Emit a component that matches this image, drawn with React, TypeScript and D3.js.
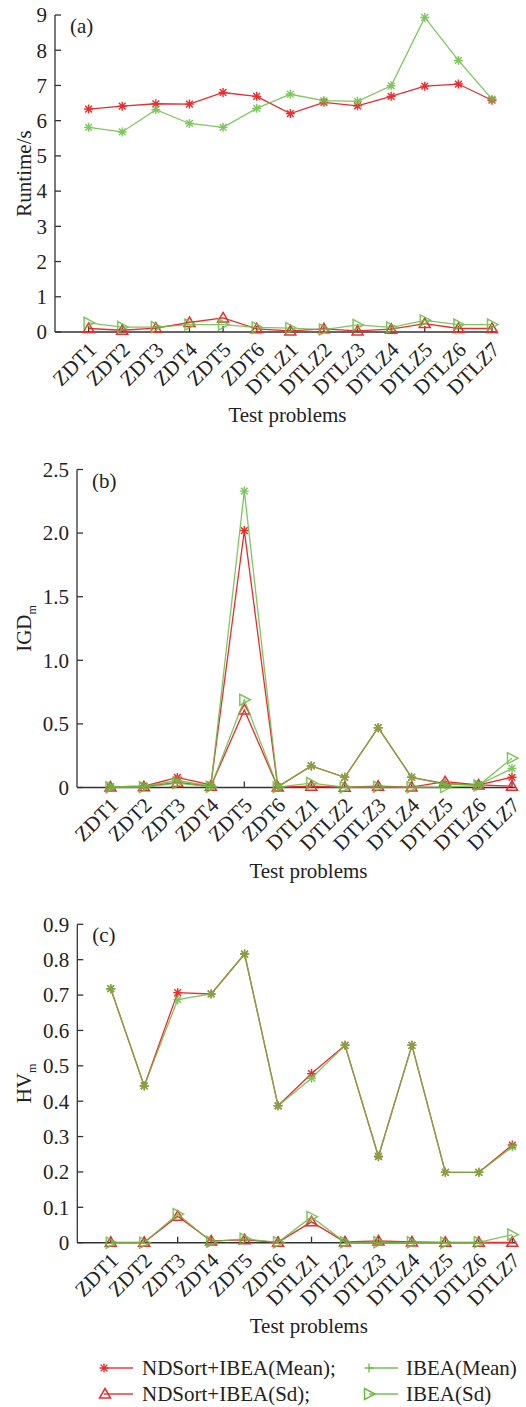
import React from 'react'
import * as d3 from 'd3'

// test problems on the x axis
const problems = ['ZDT1', 'ZDT2', 'ZDT3', 'ZDT4', 'ZDT5', 'ZDT6', 'DTLZ1', 'DTLZ2', 'DTLZ3', 'DTLZ4', 'DTLZ5', 'DTLZ6', 'DTLZ7']

// (a) runtime
const runtimeNdMean = [6.33, 6.41, 6.48, 6.47, 6.8, 6.69, 6.2, 6.52, 6.42, 6.69, 6.98, 7.04, 6.58]
const runtimeIbeaMean = [5.81, 5.68, 6.31, 5.92, 5.81, 6.35, 6.75, 6.57, 6.55, 6.99, 8.93, 7.71, 6.61]
const runtimeNdSd = [0.1, 0.05, 0.11, 0.27, 0.4, 0.09, 0.03, 0.09, 0.03, 0.08, 0.24, 0.1, 0.1]
const runtimeIbeaSd = [0.26, 0.14, 0.14, 0.21, 0.21, 0.13, 0.11, 0.07, 0.2, 0.13, 0.33, 0.21, 0.21]
const runtimeTicks = ['0', '1', '2', '3', '4', '5', '6', '7', '8', '9']

// (b) IGD
const igdNdMean = [0.005, 0.01, 0.08, 0.02, 2.02, 0.005, 0.17, 0.08, 0.47, 0.08, 0.03, 0.02, 0.08]
const igdIbeaMean = [0.005, 0.01, 0.055, 0.01, 2.33, 0.005, 0.17, 0.08, 0.47, 0.08, 0.025, 0.02, 0.15]
const igdNdSd = [0.003, 0.005, 0.04, 0.01, 0.61, 0.003, 0.01, 0.002, 0.01, 0.003, 0.046, 0.02, 0.01]
const igdIbeaSd = [0.002, 0.003, 0.035, 0.005, 0.69, 0.003, 0.035, 0.002, 0.005, 0.002, 0.003, 0.015, 0.23]
const igdTicks = ['0', '0.5', '1.0', '1.5', '2.0', '2.5']

// (c) HV
const hvNdMean = [0.718, 0.443, 0.707, 0.703, 0.816, 0.387, 0.478, 0.558, 0.243, 0.558, 0.199, 0.199, 0.276]
const hvIbeaMean = [0.718, 0.443, 0.687, 0.703, 0.816, 0.387, 0.465, 0.558, 0.245, 0.558, 0.199, 0.199, 0.271]
const hvNdSd = [0.001, 0.001, 0.075, 0.005, 0.008, 0.001, 0.059, 0.002, 0.005, 0.002, 0.001, 0.001, 0.001]
const hvIbeaSd = [0, 0, 0.081, 0.003, 0.011, 0.001, 0.073, 0.001, 0.001, 0.001, 0, 0.001, 0.023]
const hvTicks = ['0', '0.1', '0.2', '0.3', '0.4', '0.5', '0.6', '0.7', '0.8', '0.9']

const legendNames = ['NDSort+IBEA(Mean);', 'IBEA(Mean)', 'NDSort+IBEA(Sd);', 'IBEA(Sd)']

const RED = '#ec2b2e'
const GREEN = '#69bd43'
const AXIS = '#333'
const FONT = '"Liberation Serif", "Times New Roman", serif'

function marker(kind: string, x: number, y: number, color: string, key: any) {
  const s = 4.5
  if (kind === 'star') {
    const d = `M${x - s},${y}L${x + s},${y}M${x},${y - s}L${x},${y + s}` +
      `M${x - s * 0.75},${y - s * 0.75}L${x + s * 0.75},${y + s * 0.75}M${x - s * 0.75},${y + s * 0.75}L${x + s * 0.75},${y - s * 0.75}`
    return <path key={key} d={d} stroke={color} strokeWidth={1.4} fill="none" />
  }
  if (kind === 'plus') {
    return <path key={key} d={`M${x - s},${y}L${x + s},${y}M${x},${y - s}L${x},${y + s}`} stroke={color} strokeWidth={1.3} />
  }
  if (kind === 'up') {
    const d = `M${x},${y - 5.5}L${x + 5.5},${y + 4}L${x - 5.5},${y + 4}Z`
    return <path key={key} d={d} stroke={color} strokeWidth={1.5} fill="none" />
  }
  // right-pointing triangle
  const d = `M${x + 6},${y}L${x - 4.5},${y - 5.5}L${x - 4.5},${y + 5.5}Z`
  return <path key={key} d={d} stroke={color} strokeWidth={1.5} fill="none" />
}

type PanelProps = {
  x0: number
  x13: number
  yBottom: number
  yTop: number
  yMax: number
  ticks: string[]
  series: { values: number[]; color: string; kind: string; opacity: number }[]
  tag: string
  ylabel: string
  sub?: string
}

function Panel(p: PanelProps) {
  const x = d3.scaleLinear().domain([0, problems.length]).range([p.x0, p.x13])
  const y = d3.scaleLinear().domain([0, p.yMax]).range([p.yBottom, p.yTop])
  const line = d3.line<number>().x((d, i) => x(i + 1)).y(d => y(d))
  const tickVals = p.ticks.map(t => +t)
  const xEnd = p.x13 + 4
  const ymid = (p.yBottom + p.yTop) / 2

  return (
    <g fontFamily={FONT} fill="#222">
      {/* axes */}
      <line x1={p.x0} x2={p.x0} y1={p.yTop} y2={p.yBottom} stroke={AXIS} strokeWidth={1.3} />
      <line x1={p.x0} x2={xEnd} y1={p.yBottom} y2={p.yBottom} stroke={AXIS} strokeWidth={1.5} />
      {tickVals.map((v, i) => (
        <g key={'yt' + i}>
          <line x1={p.x0} x2={p.x0 + 6} y1={y(v)} y2={y(v)} stroke={AXIS} strokeWidth={1.3} />
          <text x={p.x0 - 8} y={y(v)} dy="0.35em" textAnchor="end" fontSize={21}>{p.ticks[i]}</text>
        </g>
      ))}
      {problems.map((name, i) => (
        <g key={'xt' + i}>
          <line x1={x(i + 1)} x2={x(i + 1)} y1={p.yBottom} y2={p.yBottom - 6} stroke={AXIS} strokeWidth={1.3} />
          <text transform={`translate(${x(i + 1) + 9},${p.yBottom + 19}) rotate(-45)`} textAnchor="end" fontSize={21}>{name}</text>
        </g>
      ))}
      <text x={(p.x0 + p.x13) / 2 + 14} y={p.yBottom + 90} textAnchor="middle" fontSize={21}>Test problems</text>
      <text transform={`translate(31,${ymid}) rotate(-90)`} textAnchor="middle" fontSize={21}>
        {p.ylabel}
        {p.sub && <tspan fontSize={12} dy={5}>{p.sub}</tspan>}
      </text>
      <text x={p.x0 + 15} y={p.yTop + 18} fontSize={21}>{p.tag}</text>

      {/* series */}
      {p.series.map((s, si) => (
        <g key={'s' + si} opacity={s.opacity}>
          <path d={line(s.values) || ''} stroke={s.color} strokeWidth={1.3} fill="none" />
          {s.values.map((v, i) => marker(s.kind, x(i + 1), y(v), s.color, i))}
        </g>
      ))}
    </g>
  )
}

function Legend() {
  const rows = [1368, 1394]
  const items = [
    { col: 0, row: 0, color: RED, kind: 'star' },
    { col: 1, row: 0, color: GREEN, kind: 'plus' },
    { col: 0, row: 1, color: RED, kind: 'up' },
    { col: 1, row: 1, color: GREEN, kind: 'right' }
  ]
  const cols = [{ m: 104, l2: 133, t: 142 }, { m: 369, l2: 398, t: 406 }]
  return (
    <g fontFamily={FONT}>
      {items.map((it, i) => {
        const c = cols[it.col]
        const yy = rows[it.row]
        return (
          <g key={i}>
            <line x1={c.m} x2={c.l2} y1={yy} y2={yy} stroke={it.color} strokeWidth={1.4} />
            {marker(it.kind, c.m + (it.kind === 'up' ? 1 : 0), yy, it.color, 'm')}
            <text x={c.t} y={yy} dy="0.33em" fontSize={21} fill="#222">{legendNames[i]}</text>
          </g>
        )
      })}
    </g>
  )
}

export default function App() {
  const mk = (nm: number[], im: number[], ns: number[], is: number[]) => [
    { values: nm, color: RED, kind: 'star', opacity: 1 },
    { values: ns, color: RED, kind: 'up', opacity: 1 },
    { values: im, color: GREEN, kind: 'star', opacity: 0.85 },
    { values: is, color: GREEN, kind: 'right', opacity: 0.85 }
  ]
  return (
    <div style={{ position: 'absolute', left: 0, top: 0 }}>
      <svg width={526} height={1407} style={{ display: 'block', background: '#fff' }}>
        <Panel x0={55} x13={492} yBottom={332} yTop={15} yMax={9} ticks={runtimeTicks}
          series={mk(runtimeNdMean, runtimeIbeaMean, runtimeNdSd, runtimeIbeaSd)} tag="(a)" ylabel="Runtime/s" />
        <Panel x0={77} x13={512} yBottom={787.5} yTop={469.5} yMax={2.5} ticks={igdTicks}
          series={mk(igdNdMean, igdIbeaMean, igdNdSd, igdIbeaSd)} tag="(b)" ylabel="IGD" sub="m" />
        <Panel x0={77.3} x13={512.3} yBottom={1242.7} yTop={924.3} yMax={0.9} ticks={hvTicks}
          series={mk(hvNdMean, hvIbeaMean, hvNdSd, hvIbeaSd)} tag="(c)" ylabel="HV" sub="m" />
        <Legend />
      </svg>
    </div>
  )
}
